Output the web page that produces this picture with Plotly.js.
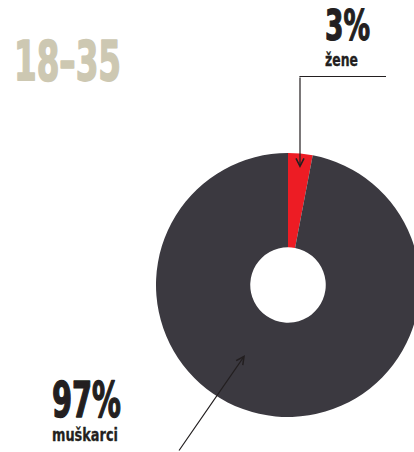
<!DOCTYPE html>
<html>
<head>
<meta charset="utf-8">
<script src="https://cdn.plot.ly/plotly-3.0.1.min.js"></script>
<style>
html,body{margin:0;padding:0;background:#fff;overflow:hidden;width:414px;height:452px;}
#chart{width:440px;height:452px;}
</style>
</head>
<body>
<div id="chart"></div>
<script>
// ---- data ----
var groupLabel = '18–35';
var categories = ['žene', 'muškarci'];
var values = [3, 97];

// ---- styles ----
var sliceColors = ['#ed1c24', '#3b3940'];
var ink = '#231f20';
var beige = '#cdc8b2';
var W = 440, H = 452;
function px(x){ return x / W; }
function py(y){ return 1 - y / H; }
var fam = '"DejaVu Sans Condensed", "DejaVu Sans", sans-serif';

var trace = {
  type: 'pie',
  labels: categories,
  values: values,
  sort: false,
  direction: 'clockwise',
  rotation: 0,
  hole: 0.286,
  textinfo: 'none',
  hoverinfo: 'label+percent',
  showlegend: false,
  marker: {colors: sliceColors, line: {width: 0}},
  domain: {x: [px(156), px(420)], y: [py(417), py(153)]}
};

// text boxes: [text, left, targetWidth, middleY, size, color, extra stroke]
var textSpecs = [
  [groupLabel,        14, 107, 61.0, 55, beige, 1.6],
  [values[0] + '%',  325,  45, 26.0, 42.5, ink, 1.2],
  [categories[0],    325,  33, 59.9, 18, ink, 0.3],
  [values[1] + '%',   52,  69, 400.5, 49, ink, 1.4],
  [categories[1],     52,  66, 434.9, 18, ink, 0.3]
];

var annotations = textSpecs.map(function(s){
  return {xref:'paper', yref:'paper', x: px(s[1]), y: py(s[3]), xanchor:'left', yanchor:'middle',
    text: s[0], showarrow:false, font: {family: fam, size: s[4], color: s[5], weight: 700}};
});

annotations.push(
  {xref:'paper', yref:'paper', x: px(300), y: py(168), axref:'pixel', ayref:'pixel', ax: 0, ay: -92,
   text:'', showarrow:true, arrowhead:5, arrowsize:1.3, arrowwidth:1.2, arrowcolor: ink, standoff:0, startstandoff:0},
  {xref:'paper', yref:'paper', x: px(245), y: py(355), axref:'pixel', ayref:'pixel', ax: -67, ay: 99,
   text:'', showarrow:true, arrowhead:5, arrowsize:1.3, arrowwidth:1.2, arrowcolor: ink, standoff:0, startstandoff:0}
);

var shapes = [
  {type:'line', xref:'paper', yref:'paper', x0: px(299.4), x1: px(386), y0: py(76.5), y1: py(76.5),
   line: {color: ink, width: 1.2}}
];

var layout = {
  width: W, height: H,
  margin: {l:0, r:0, t:0, b:0},
  paper_bgcolor: '#ffffff',
  plot_bgcolor: '#ffffff',
  annotations: annotations,
  shapes: shapes
};

Plotly.newPlot('chart', [trace], layout, {displayModeBar:false, staticPlot:true}).then(function(gd){
  // condense the headline texts horizontally to match the narrow heavy typeface of the original
  var host = gd.getBoundingClientRect();
  var nodes = gd.querySelectorAll('.annotation');
  for (var i = 0; i < textSpecs.length && i < nodes.length; i++) {
    var t = nodes[i].querySelector('text.annotation-text');
    if (!t) continue;
    var bb = t.getBBox();
    var r = t.getBoundingClientRect();
    if (!bb.width) continue;
    var offset = (r.left - host.left) - bb.x;
    var s = textSpecs[i][2] / bb.width;
    var L = textSpecs[i][1];
    t.setAttribute('transform', 'translate(' + (L - offset) + ',0) scale(' + s + ',1) translate(' + (-bb.x) + ',0)');
    t.style.stroke = textSpecs[i][5];
    t.style.strokeWidth = textSpecs[i][6] + 'px';
    t.style.strokeLinejoin = 'round';
  }
});
</script>
</body>
</html>
